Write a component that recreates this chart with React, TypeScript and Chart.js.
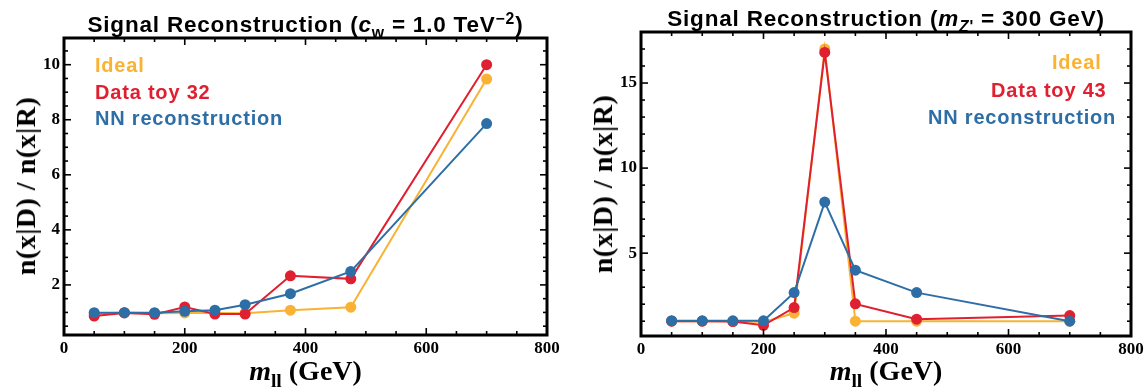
import React, { useEffect, useRef } from "react";
import { Chart, registerables } from "chart.js";

Chart.register(...registerables);

// ---------- data ----------
const leftX = [50, 100, 150, 200, 250, 300, 375, 475, 700];
const leftIdeal = [0.95, 1.0, 0.97, 0.98, 0.98, 0.97, 1.08, 1.19, 9.48];
const leftToy = [0.87, 0.98, 0.93, 1.2, 0.94, 0.94, 2.33, 2.22, 10.0];
const leftNN = [0.99, 0.99, 0.99, 1.04, 1.08, 1.28, 1.68, 2.49, 7.86];

const rightX = [50, 100, 150, 200, 250, 300, 350, 450, 700];
const rightIdeal = [1.0, 1.0, 1.0, 0.95, 1.47, 17.0, 1.0, 1.0, 1.0];
const rightToy = [1.0, 1.0, 0.98, 0.76, 1.8, 16.8, 2.02, 1.12, 1.33];
const rightNN = [1.03, 1.02, 1.02, 1.02, 2.68, 8.0, 4.0, 2.68, 1.0];

const xTicks = [0, 200, 400, 600, 800];
const leftYTicks = [2, 4, 6, 8, 10];
const rightYTicks = [5, 10, 15];

const leftLegend = ["Ideal", "Data toy 32", "NN reconstruction"];
const rightLegend = ["Ideal", "Data toy 43", "NN reconstruction"];

// ---------- styles ----------
const ORANGE = "#F9B233";
const RED = "#E02030";
const BLUE = "#2E6EA6";
const COLORS = [ORANGE, RED, BLUE];
const SERIF = '"Liberation Serif", "Times New Roman", serif';
const SANS = '"Liberation Sans", Arial, Helvetica, sans-serif';
const W = 573;
const H = 391;

type Area = { left: number; right: number; top: number; bottom: number };

const framePlugin = {
  id: "mmaFrame",
  afterDatasetsDraw(chart: any, _args: any, opts: any) {
    const { ctx, chartArea: a, scales } = chart;
    const xs = scales.x;
    const ys = scales.y;
    ctx.save();
    ctx.strokeStyle = "#000";
    ctx.lineWidth = 1.6;
    const seg = (x1: number, y1: number, x2: number, y2: number) => {
      ctx.beginPath();
      ctx.moveTo(x1, y1);
      ctx.lineTo(x2, y2);
      ctx.stroke();
    };
    for (let v = xs.min; v <= xs.max + 1e-9; v += opts.xMinor) {
      const major = Math.abs(v % opts.xMajor) < 1e-6;
      const len = major ? 7 : 4;
      const px = xs.getPixelForValue(v);
      seg(px, a.bottom, px, a.bottom - len);
      seg(px, a.top, px, a.top + len);
    }
    const y0 = Math.ceil(ys.min / opts.yMinor) * opts.yMinor;
    for (let v = y0; v <= ys.max + 1e-9; v += opts.yMinor) {
      const r = Math.abs(v / opts.yMajor - Math.round(v / opts.yMajor));
      const len = r < 1e-6 ? 7 : 4;
      const py = ys.getPixelForValue(v);
      seg(a.left, py, a.left + len, py);
      seg(a.right, py, a.right - len, py);
    }
    ctx.lineWidth = 3;
    ctx.strokeRect(a.left, a.top, a.right - a.left, a.bottom - a.top);
    ctx.restore();
  },
};

function makeChart(
  canvas: HTMLCanvasElement,
  xs: number[],
  series: number[][],
  yMin: number,
  yMax: number,
  yTicks: number[],
  yMajor: number,
  yMinor: number,
  area: Area
) {
  const datasets = series.map((vals, i) => ({
    label: ["Ideal", "Data toy", "NN reconstruction"][i],
    data: xs.map((x, j) => ({ x, y: vals[j] })),
    borderColor: COLORS[i],
    backgroundColor: COLORS[i],
    pointBackgroundColor: COLORS[i],
    pointBorderWidth: 0,
    pointRadius: 5.5,
    borderWidth: 2,
    tension: 0,
    order: 2 - i,
  }));
  const tickFont = { family: SERIF, weight: "bold" as const, size: 17 };
  return new Chart(canvas, {
    type: "line",
    data: { datasets },
    plugins: [framePlugin],
    options: {
      animation: false,
      responsive: false,
      devicePixelRatio: 1,
      layout: { padding: { left: 0, top: area.top, right: W - area.right, bottom: 0 } },
      plugins: {
        legend: { display: false },
        tooltip: { enabled: false },
        title: { display: false },
        mmaFrame: { xMajor: 200, xMinor: 50, yMajor, yMinor },
      } as any,
      scales: {
        x: {
          type: "linear",
          min: 0,
          max: 800,
          grid: { display: false, drawTicks: false, tickLength: 0 },
          border: { display: false },
          ticks: {
            font: tickFont,
            color: "#000",
            padding: 3,
            maxRotation: 0,
            autoSkip: false,
          },
          afterBuildTicks: (s: any) => {
            s.ticks = xTicks.map((v) => ({ value: v }));
          },
          afterFit: (s: any) => {
            s.height = H - area.bottom;
            s.paddingLeft = 0;
            s.paddingRight = 0;
          },
        },
        y: {
          type: "linear",
          min: yMin,
          max: yMax,
          grid: { display: false, drawTicks: false, tickLength: 0 },
          border: { display: false },
          ticks: { font: tickFont, color: "#000", padding: 4, autoSkip: false },
          afterBuildTicks: (s: any) => {
            s.ticks = yTicks.map((v) => ({ value: v }));
          },
          afterFit: (s: any) => {
            s.width = area.left;
            s.paddingTop = 0;
            s.paddingBottom = 0;
          },
        },
      },
    } as any,
  });
}

const sub: React.CSSProperties = { fontSize: "0.7em", position: "relative", top: "0.35em" };
const sup: React.CSSProperties = { fontSize: "0.7em", position: "relative", top: "-0.5em" };

function abs(left: number, top: number, extra: React.CSSProperties = {}): React.CSSProperties {
  return { position: "absolute", left, top, whiteSpace: "nowrap", lineHeight: 1, ...extra };
}

export default function App() {
  const leftRef = useRef<HTMLCanvasElement>(null);
  const rightRef = useRef<HTMLCanvasElement>(null);

  useEffect(() => {
    const c1 = makeChart(
      leftRef.current!,
      leftX,
      [leftIdeal, leftToy, leftNN],
      0.18,
      10.97,
      leftYTicks,
      2,
      0.5,
      { left: 64, right: 547, top: 38, bottom: 335 }
    );
    const c2 = makeChart(
      rightRef.current!,
      rightX,
      [rightIdeal, rightToy, rightNN],
      0.13,
      18,
      rightYTicks,
      5,
      1,
      { left: 68, right: 558, top: 32, bottom: 336 }
    );
    return () => {
      c1.destroy();
      c2.destroy();
    };
  }, []);

  const titleStyle = (left: number, width: number, top: number): React.CSSProperties =>
    abs(left, top, {
      width,
      textAlign: "center",
      fontFamily: SANS,
      fontWeight: "bold",
      fontSize: 22.5,
      letterSpacing: "0.8px",
      color: "#000",
    });
  const legStyle = (left: number, top: number, color: string): React.CSSProperties =>
    abs(left, top, { fontFamily: SANS, fontWeight: "bold", fontSize: 20, letterSpacing: "0.8px", color });
  const xTitle = (left: number, width: number): React.CSSProperties =>
    abs(left, 357, { width, textAlign: "center", fontFamily: SERIF, fontWeight: "bold", fontSize: 28, color: "#000" });
  const yTitle = (cx: number, cy: number): React.CSSProperties =>
    abs(cx, cy, {
      fontFamily: SERIF,
      fontWeight: "bold",
      fontSize: 28,
      letterSpacing: "0.5px",
      color: "#000",
      transform: "translate(-50%, -50%) rotate(-90deg)",
    });

  return (
    <div style={{ position: "absolute", left: 0, top: 0, width: 1146, height: 391, background: "#fff", overflow: "hidden" }}>
      <canvas ref={leftRef} width={W} height={H} style={{ position: "absolute", left: 0, top: 0, width: W, height: H }} />
      <canvas ref={rightRef} width={W} height={H} style={{ position: "absolute", left: 573, top: 0, width: W, height: H }} />

      <div style={titleStyle(64, 483, 14)}>
        Signal Reconstruction (<i>c</i>
        <span style={sub}>w</span> = 1.0 TeV<span style={sup}>−2</span>)
      </div>
      <div style={titleStyle(641, 490, 8)}>
        Signal Reconstruction (<i>m</i>
        <span style={sub}>
          <i>Z</i>'
        </span>{" "}
        = 300 GeV)
      </div>

      <div style={legStyle(95, 55, ORANGE)}>{leftLegend[0]}</div>
      <div style={legStyle(95, 81.5, RED)}>{leftLegend[1]}</div>
      <div style={legStyle(95, 108, BLUE)}>{leftLegend[2]}</div>

      <div style={legStyle(1052, 51.5, ORANGE)}>{rightLegend[0]}</div>
      <div style={legStyle(991, 80, RED)}>{rightLegend[1]}</div>
      <div style={legStyle(928, 107, BLUE)}>{rightLegend[2]}</div>

      <div style={xTitle(64, 483)}>
        <i>m</i>
        <span style={sub}>ll</span> (GeV)
      </div>
      <div style={xTitle(641, 490)}>
        <i>m</i>
        <span style={sub}>ll</span> (GeV)
      </div>

      <div style={yTitle(26, 186)}>n(x|D) / n(x|R)</div>
      <div style={yTitle(603, 184)}>n(x|D) / n(x|R)</div>
    </div>
  );
}
